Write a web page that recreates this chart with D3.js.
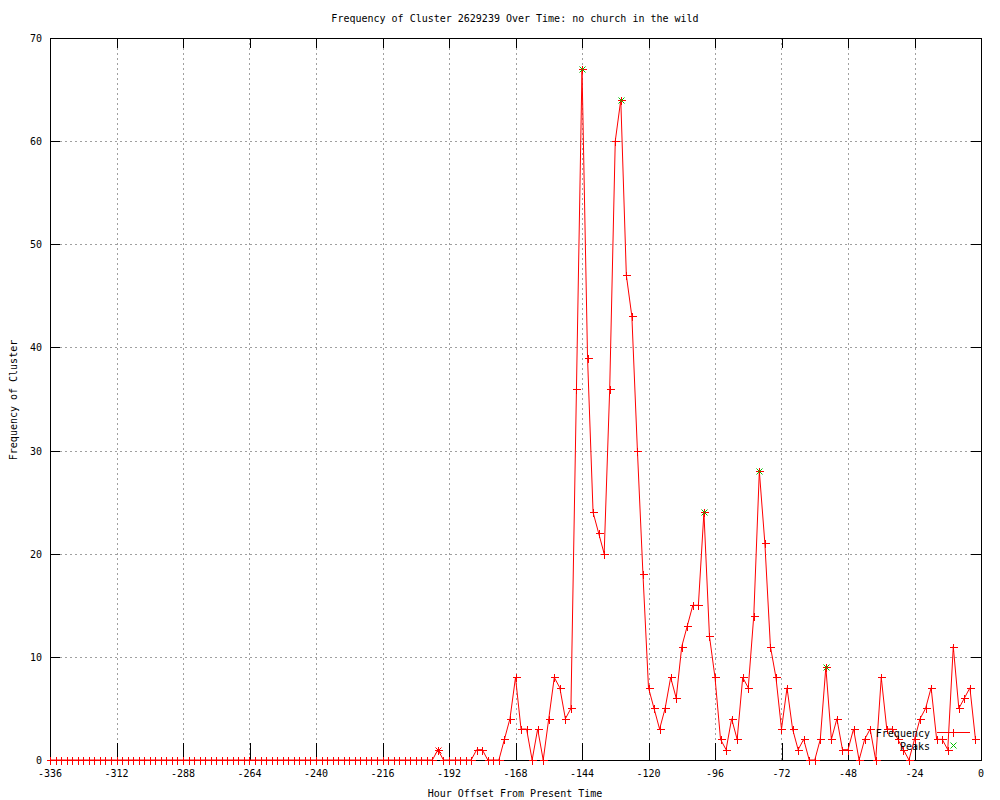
<!DOCTYPE html>
<html>
<head>
<meta charset="utf-8">
<script src="https://cdnjs.cloudflare.com/ajax/libs/d3/7.8.5/d3.min.js"></script>
<style>
  body { margin: 0; background: #fff; }
  svg text { font-family: "DejaVu Sans Mono", monospace; font-size: 10px; fill: #000; }
</style>
</head>
<body>
<svg id="chart" width="1000" height="800"></svg>
<script>
// frequency per 2-hour bin, from -336h up to -2h
var freq = [
  0,0,0,0,0,0,0,0,0,0, 0,0,0,0,0,0,0,0,0,0,   // -336 .. -298
  0,0,0,0,0,0,0,0,0,0, 0,0,0,0,0,0,0,0,0,0,   // -296 .. -258
  0,0,0,0,0,0,0,0,0,0, 0,0,0,0,0,0,0,0,0,0,   // -256 .. -218
  0,0,0,0,0,0,0,0,0,0,                        // -216 .. -198
  1,0,0,0,0,0,0,1,1,0, 0,0,2,4,8,3,3,0,3,0,   // -196 .. -158
  4,8,7,4,5,36,67,39,24,22, 20,36,60,64,47,43,30,18,7,5,  // -156 .. -118
  3,5,8,6,11,13,15,15,24,12, 8,2,1,4,2,8,7,14,28,21,    // -116 .. -78
  11,8,3,7,3,1,2,0,0,2, 9,2,4,1,1,3,0,2,3,0,   // -76 .. -38
  8,3,3,2,1,0,2,4,5,7, 2,2,1,11,5,6,7,2        // -36 .. -2
];
var hours = d3.range(-336, 0, 2);
var peakHours = [-144, -130, -100, -80, -56];
var redStarHours = [-196];

var xTicks = d3.range(-336, 1, 24);
var yTicks = [0, 10, 20, 30, 40, 50, 60, 70];

var svg = d3.select("#chart");
var plotL = 50, plotR = 981, plotT = 38, plotB = 760;

var x = d3.scaleLinear().domain([-336, 0]).range([plotL, plotR]);
var y = d3.scaleLinear().domain([0, 70]).range([plotB, plotT]);

function valueAt(h) { return freq[hours.indexOf(h)]; }

// grid
var grid = svg.append("g").attr("shape-rendering", "crispEdges");
grid.selectAll(".gx").data(xTicks.slice(1, -1)).enter().append("line")
  .attr("x1", function(d){ return Math.round(x(d)) + 0.5; })
  .attr("x2", function(d){ return Math.round(x(d)) + 0.5; })
  .attr("y1", plotT).attr("y2", plotB)
  .attr("stroke", "#a0a0a0").attr("stroke-dasharray", "2,3");
grid.selectAll(".gy").data(yTicks.slice(1, -1)).enter().append("line")
  .attr("y1", function(d){ return Math.round(y(d)) + 0.5; })
  .attr("y2", function(d){ return Math.round(y(d)) + 0.5; })
  .attr("x1", plotL).attr("x2", plotR)
  .attr("stroke", "#a0a0a0").attr("stroke-dasharray", "2,3");

// axes (ticks pointing inward, gnuplot style)
var axBottom = svg.append("g").attr("transform", "translate(0," + plotB + ")")
  .call(d3.axisTop(x).tickValues(xTicks).tickSize(17).tickFormat(""));
var axTop = svg.append("g").attr("transform", "translate(0," + plotT + ")")
  .call(d3.axisBottom(x).tickValues(xTicks).tickSize(10).tickFormat(""));
var axLeft = svg.append("g").attr("transform", "translate(" + plotL + ",0)")
  .call(d3.axisRight(y).tickValues(yTicks).tickSize(10).tickFormat(""));
var axRight = svg.append("g").attr("transform", "translate(" + plotR + ",0)")
  .call(d3.axisLeft(y).tickValues(yTicks).tickSize(10).tickFormat(""));
[axBottom, axTop, axLeft, axRight].forEach(function(a){
  a.attr("shape-rendering", "crispEdges");
  a.selectAll("path").remove();
  a.selectAll("line").attr("stroke", "#000");
});

svg.append("rect").attr("x", plotL + 0.5).attr("y", plotT + 0.5)
  .attr("width", plotR - plotL).attr("height", plotB - plotT)
  .attr("fill", "none").attr("stroke", "#000").attr("shape-rendering", "crispEdges");

// tick labels
svg.append("g").selectAll("text").data(xTicks).enter().append("text")
  .attr("x", function(d){ return x(d); }).attr("y", 777)
  .attr("text-anchor", "middle").text(function(d){ return d; });
svg.append("g").selectAll("text").data(yTicks).enter().append("text")
  .attr("x", 42).attr("y", function(d){ return y(d) + 4; })
  .attr("text-anchor", "end").text(function(d){ return d; });

// titles
svg.append("text").attr("x", 515).attr("y", 22).attr("text-anchor", "middle")
  .text("Frequency of Cluster 2629239 Over Time: no church in the wild");
svg.append("text").attr("x", 515).attr("y", 797).attr("text-anchor", "middle")
  .text("Hour Offset From Present Time");
svg.append("text").attr("transform", "translate(17,400) rotate(-90)")
  .attr("text-anchor", "middle").text("Frequency of Cluster");

// frequency line
var line = d3.line().x(function(d, i){ return x(hours[i]); }).y(function(d){ return y(d); });
svg.append("path").datum(freq).attr("d", line)
  .attr("fill", "none").attr("stroke", "#ff0000").attr("stroke-width", 1);

function plus(g, cx, cy, color) {
  g.append("path").attr("d", "M" + (cx - 4) + "," + cy + "H" + (cx + 4) + "M" + cx + "," + (cy - 4) + "V" + (cy + 4))
    .attr("stroke", color).attr("fill", "none").attr("shape-rendering", "crispEdges");
}
function cross(g, cx, cy, color) {
  g.append("path").attr("d", "M" + (cx - 3) + "," + (cy - 3) + "L" + (cx + 3) + "," + (cy + 3) +
    "M" + (cx - 3) + "," + (cy + 3) + "L" + (cx + 3) + "," + (cy - 3))
    .attr("stroke", color).attr("fill", "none");
}

var pts = svg.append("g");
freq.forEach(function(v, i){
  plus(pts, Math.round(x(hours[i])) + 0.5, Math.round(y(v)) + 0.5, "#ff0000");
});
redStarHours.forEach(function(h){
  cross(pts, Math.round(x(h)) + 0.5, Math.round(y(valueAt(h))) + 0.5, "#ff0000");
});
peakHours.forEach(function(h){
  cross(pts, Math.round(x(h)) + 0.5, Math.round(y(valueAt(h))) + 0.5, "#00c000");
});

// legend
var lg = svg.append("g");
lg.append("text").attr("x", 930).attr("y", 737).attr("text-anchor", "end").text("Frequency");
lg.append("line").attr("x1", 937).attr("x2", 970).attr("y1", 732.5).attr("y2", 732.5)
  .attr("stroke", "#ff0000").attr("shape-rendering", "crispEdges");
plus(lg, 953.5, 732.5, "#ff0000");
lg.append("text").attr("x", 930).attr("y", 750).attr("text-anchor", "end").text("Peaks");
cross(lg, 953.5, 745.5, "#00c000");
</script>
</body>
</html>
